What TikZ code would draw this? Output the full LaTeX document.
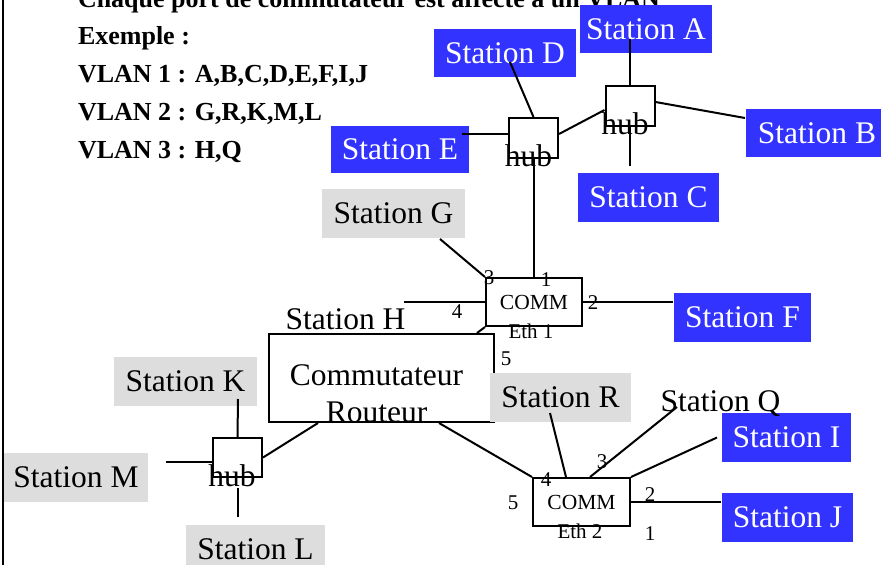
\documentclass[tikz,border=0pt]{standalone}
\usepackage{fontspec}
\setmainfont{Liberation Serif}
\definecolor{stblue}{HTML}{3333FF}
\definecolor{stgrey}{HTML}{DDDDDD}

\begin{document}
\begin{tikzpicture}[x=1pt,y=-1pt,line width=2pt,
  stx/.style={font=\fontsize{31.5}{37}\selectfont},
  blu/.style={stx,fill=stblue,text=white,inner sep=0pt,minimum height=48pt},
  gry/.style={stx,fill=stgrey,inner sep=0pt,minimum height=49pt},
  hb/.style={draw,inner sep=0pt,minimum width=49pt,minimum height=40pt},
  hubtxt/.style={stx,inner sep=0pt,anchor=base},
  comm/.style={draw,inner sep=0pt,minimum width=96pt,minimum height=48pt,font=\fontsize{21.5}{24}\selectfont},
  prt/.style={inner sep=0pt,font=\fontsize{21}{24}\selectfont},
  hd/.style={inner sep=0pt,anchor=base west,font=\fontsize{26}{30}\selectfont\bfseries}]
  \useasboundingbox (0,0) rectangle (881,565);
  \clip (0,0) rectangle (881,565);

  \node[hd] (title) at (77,7) {Chaque port de commutateur est affecté à un VLAN};
  \node[hd] (ex) at (77,44) {Exemple :};
  \node[hd] (vl1) at (77,82) {VLAN 1 : A,B,C,D,E,F,I,J};
  \node[hd] (vl2) at (77,120) {VLAN 2 : G,R,K,M,L};
  \node[hd] (vl3) at (77,158) {VLAN 3 : H,Q};

  \node[blu,minimum width=132pt] (stA) at (646,29) {Station A};
  \node[blu,minimum width=142pt] (stD) at (505,53) {Station D};
  \node[blu,minimum width=138pt,minimum height=47pt] (stE) at (400,149.5) {Station E};
  \node[blu,minimum width=142pt] (stB) at (817,133) {Station B};
  \node[blu,minimum width=141pt,minimum height=49pt] (stC) at (648.5,197.5) {Station C};
  \node[blu,minimum width=137pt,minimum height=49pt] (stF) at (742.5,317.5) {Station F};
  \node[blu,minimum width=129pt,minimum height=49pt] (stI) at (786.5,437.5) {Station I};
  \node[blu,minimum width=131pt,minimum height=49pt] (stJ) at (787.5,517.5) {Station J};

  \node[gry,minimum width=143pt] (stG) at (393.5,213.5) {Station G};
  \node[gry,minimum width=143pt] (stK) at (185.5,381.5) {Station K};
  \node[gry,minimum width=144pt] (stM) at (76,477.5) {Station M};
  \node[gry,minimum width=139pt] (stL) at (255.5,549.5) {Station L};
  \node[stx,inner sep=0pt,anchor=base] (stH) at (345.5,329) {Station H};
  \node[stx,inner sep=0pt,anchor=base] (stQ) at (720.5,411) {Station Q};

  \node[draw,inner sep=0pt,minimum width=225pt,minimum height=88pt] (rt) at (381.5,378) {};
  \node[stx,inner sep=0pt,align=center] (rttxt) at (376.5,394) {Commutateur\\Routeur};
  \node[gry,minimum width=141pt] (stR) at (560.5,397.5) {Station R};

  \node[hb] (hubA) at (630,106) {};
  \node[hb] (hubD) at (533.5,138) {};
  \node[hb,minimum height=39pt] (hubK) at (237.5,457.5) {};
  \node[hubtxt] (hubAt) at ([xshift=-5pt,yshift=-7pt]hubA.south) {hub};
  \node[hubtxt] (hubDt) at ([xshift=-5pt,yshift=-7pt]hubD.south) {hub};
  \node[hubtxt] (hubKt) at ([xshift=-5.5pt,yshift=-8pt]hubK.south) {hub};

  \node[comm] (comm1) at (534,302) {COMM};
  \node[comm,minimum width=97pt] (comm2) at (581.5,502) {COMM};
  \node[prt,anchor=base] (eth1) at ([xshift=-3pt,yshift=-11pt]comm1.south) {Eth 1};
  \node[prt,anchor=base] (eth2) at ([xshift=-1.5pt,yshift=-11pt]comm2.south) {Eth 2};
  \foreach \n/\x/\y in {1/546/280,2/593/303,3/489/278,4/457/312,5/506/359}
    \node[prt] (pa\n) at (\x,\y) {\n};
  \foreach \n/\x/\y in {1/650/534,2/650/495,3/602/462,4/546/480,5/513/503}
    \node[prt] (pb\n) at (\x,\y) {\n};

  \draw ([xshift=-16pt,yshift=15pt]stA.south) -- (hubA.north);
  \draw ([yshift=4pt]hubA.east) -- ([yshift=15pt]stB.west);
  \draw[shorten >=6pt] (hubA.south) -- (hubA.south |- stC.north);
  \draw ([yshift=4pt]hubD.east) -- ([yshift=-4pt]hubA.west);
  \draw ([xshift=5pt,yshift=-9pt]stD.center) -- (hubD.north);
  \draw ([xshift=-8pt,yshift=15.5pt]stE.east) -- ([yshift=4pt]hubD.west);
  \draw (hubD.south) -- (hubD.south |- comm1.north);
  \draw ([xshift=-26pt]stG.south east) -- (comm1.north west);
  \draw ([xshift=-81pt]comm1.west) -- (comm1.west);
  \draw (comm1.east) -- (comm1.east -| stF.west);
  \draw ([xshift=-18pt]rt.north east) -- (comm1.south west);
  \draw ([xshift=50pt]rt.south west) -- (hubK.east);
  \draw ([xshift=-56pt]rt.south east) -- (comm2.north west);
  \draw ([xshift=-20pt,yshift=8pt]stK.south east) -- (hubK.north);
  \draw ([xshift=17pt,yshift=15.5pt]stM.east) -- ([yshift=-4.5pt]hubK.west);
  \draw[shorten <=10pt,shorten >=7pt] (hubK.south) -- (hubK.south |- stL.north);
  \draw ([xshift=-10.5pt,yshift=-15.5pt]stR.center) -- ([xshift=-15.5pt]comm2.north);
  \draw ([xshift=-43.5pt,yshift=4pt]stQ.base) -- ([xshift=8.5pt]comm2.north);
  \draw ([xshift=-4pt]stI.west) -- (comm2.north east);
  \draw (comm2.east) -- (comm2.east -| stJ.west);

  \draw (3,0) -- (3,565);
\end{tikzpicture}
\end{document}
